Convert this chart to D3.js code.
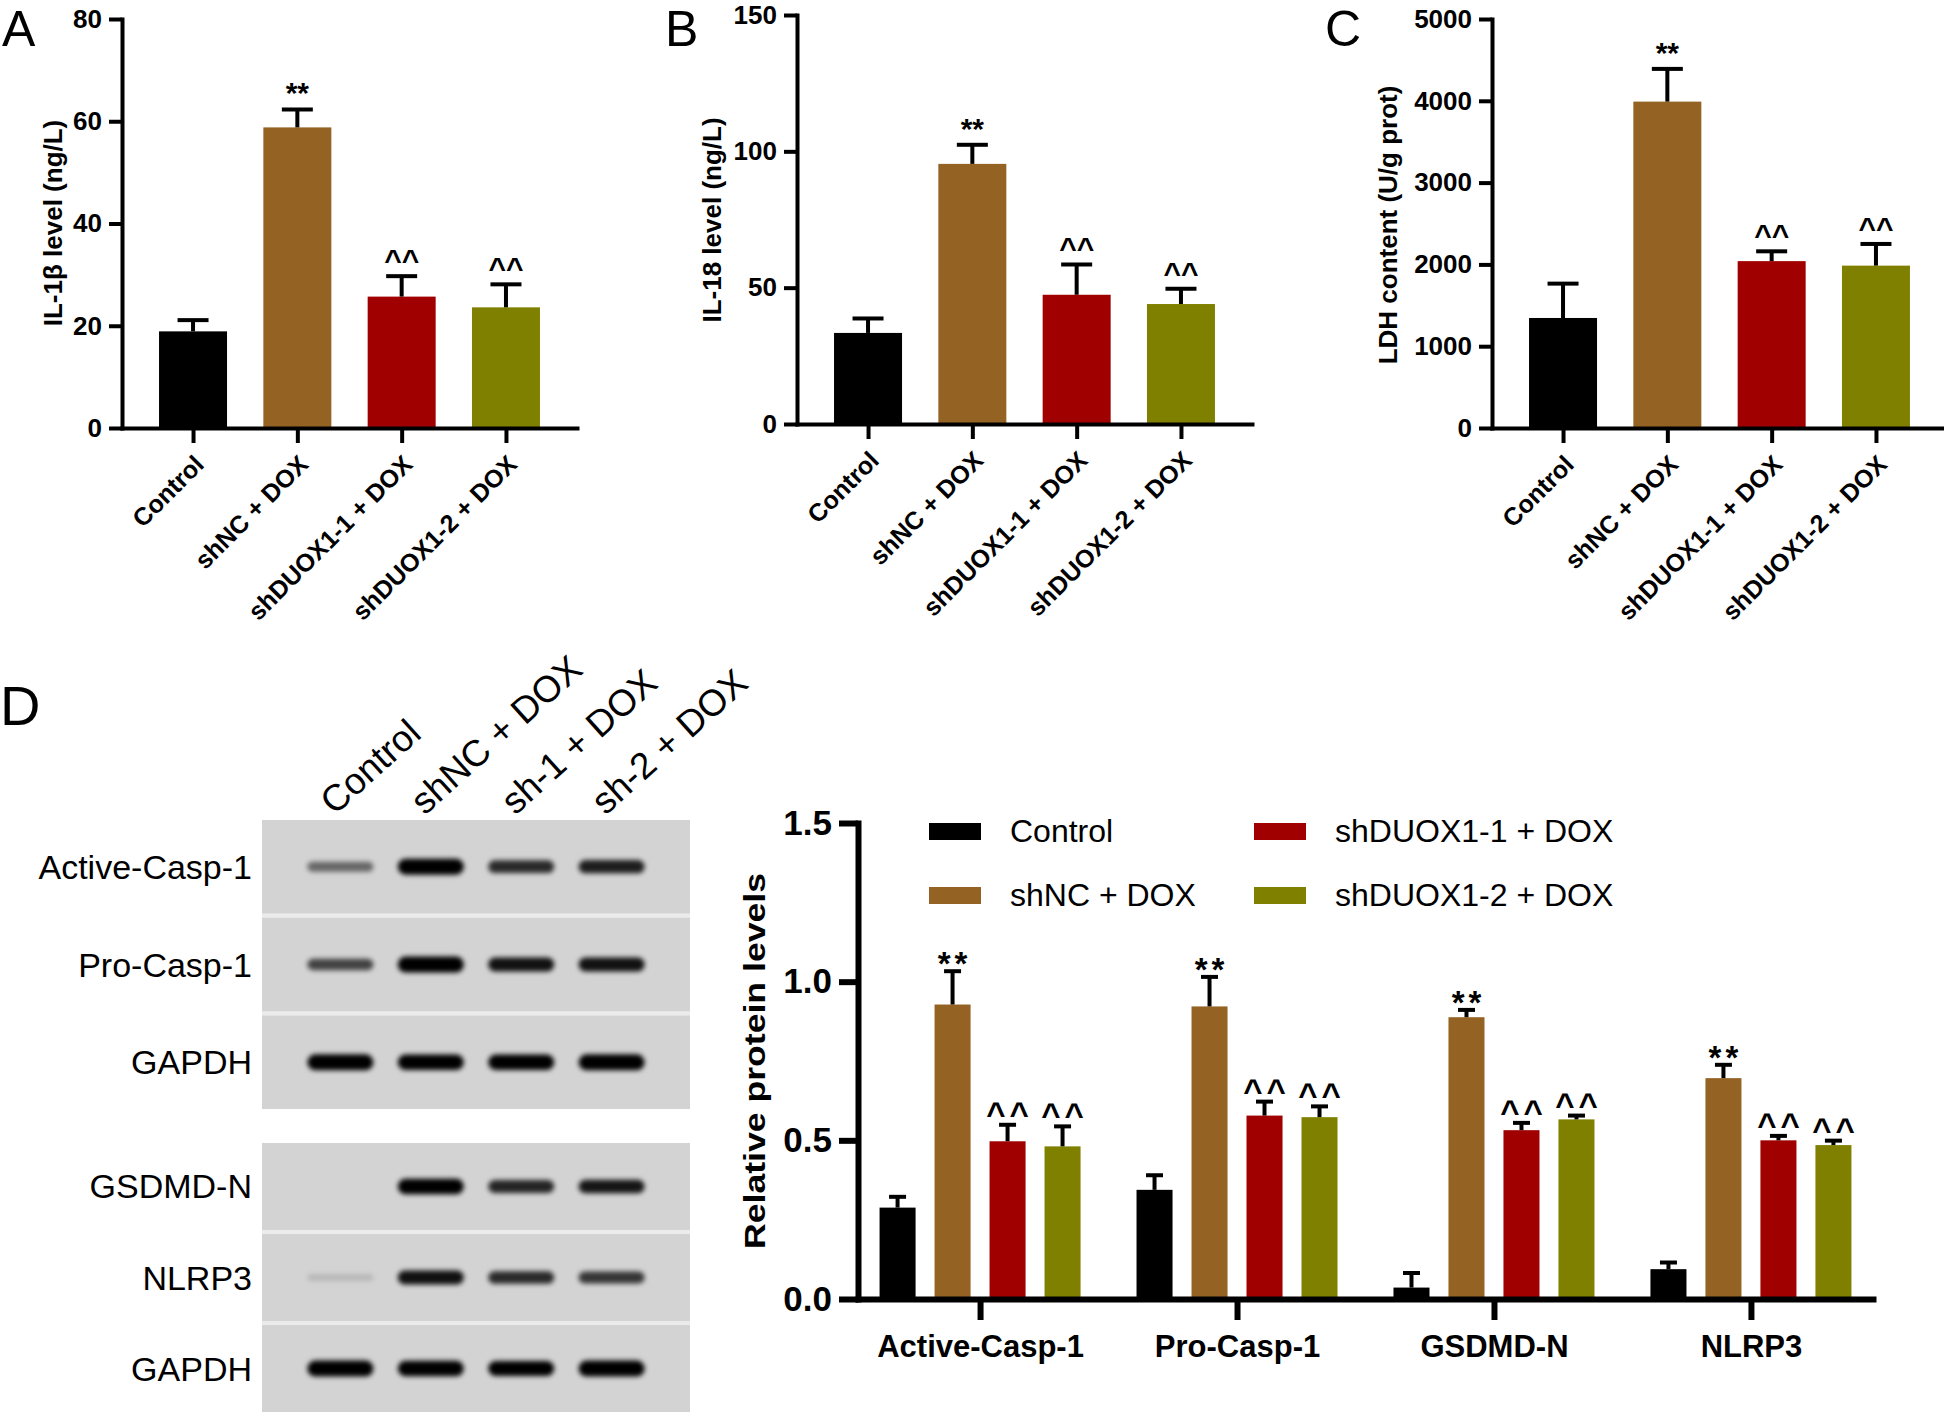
<!DOCTYPE html>
<html>
<head>
<meta charset="utf-8">
<script src="https://cdn.jsdelivr.net/npm/d3@7"></script>
<style>
  body { margin: 0; background: #fff; }
  svg { display: block; font-family: "Liberation Sans", Arial, sans-serif; }
</style>
</head>
<body>
<svg id="fig" width="1944" height="1418"></svg>
<script>
// groups + colours shared by all panels
const groups = ["Control", "shNC + DOX", "shDUOX1-1 + DOX", "shDUOX1-2 + DOX"];
const groupColors = ["#000000", "#946324", "#a00000", "#808000"];
const sigMarks = ["", "**", "^^", "^^"];

// A: IL-1β
const il1bMean = [18.9, 58.8, 25.7, 23.6];
const il1bErr = [2.2, 3.5, 4.0, 4.5];
const il1bTicks = [0, 20, 40, 60, 80];

// B: IL-18
const il18Mean = [33.4, 95.4, 47.4, 44.0];
const il18Err = [5.3, 7.0, 11.1, 5.6];
const il18Ticks = [0, 50, 100, 150];

// C: LDH
const ldhMean = [1345, 3990, 2040, 1985];
const ldhErr = [420, 400, 120, 265];
const ldhTicks = [0, 1000, 2000, 3000, 4000, 5000];

// D: relative protein levels (one array per group, in protein order)
const proteins = ["Active-Casp-1", "Pro-Casp-1", "GSDMD-N", "NLRP3"];
const controlRel = [0.288, 0.344, 0.036, 0.094];
const controlRelErr = [0.034, 0.046, 0.046, 0.021];
const shncRel = [0.928, 0.922, 0.888, 0.696];
const shncRelErr = [0.105, 0.093, 0.023, 0.042];
const sh1Rel = [0.497, 0.578, 0.532, 0.500];
const sh1RelErr = [0.052, 0.044, 0.023, 0.014];
const sh2Rel = [0.481, 0.573, 0.566, 0.485];
const sh2RelErr = [0.063, 0.034, 0.012, 0.014];
const relTicks = [0, 0.5, 1.0, 1.5];

// western blot
const laneLabels = ["Control", "shNC + DOX", "sh-1 + DOX", "sh-2 + DOX"];
const blotRowsTop = ["Active-Casp-1", "Pro-Casp-1", "GAPDH"];
const blotRowsBottom = ["GSDMD-N", "NLRP3", "GAPDH"];
const bandsTop = [[0.45, 1.0, 0.7, 0.75], [0.6, 1.0, 0.8, 0.8], [1.0, 0.95, 0.95, 1.0]];
const bandsBottom = [[0, 0.95, 0.72, 0.78], [0.12, 0.8, 0.7, 0.65], [1.0, 0.95, 0.9, 1.0]];

const svg = d3.select("#fig");
svg.append("rect").attr("width", 1944).attr("height", 1418).attr("fill", "#fff");

function styleAxis(g, w, fontSize) {
    g.select(".domain").attr("stroke", "#000").attr("stroke-width", w).attr("stroke-linecap", "square");
    g.selectAll(".tick line").attr("stroke", "#000").attr("stroke-width", w);
    g.selectAll(".tick text").attr("fill", "#000").attr("font-size", fontSize).attr("font-weight", "bold")
        .attr("font-family", "Liberation Sans, Arial, sans-serif");
}

// ---------- panels A, B, C ----------
function drawSmallPanel(p) {
    const g = svg.append("g");
    const x = d3.scalePoint().domain(groups).range([p.left, p.left + 455]).padding(0.681);
    const y = d3.scaleLinear().domain([0, p.max]).range([p.bottom, p.top]);
    const bw = 68;

    g.selectAll(".bar").data(p.mean).join("rect")
        .attr("x", (d, i) => x(groups[i]) - bw / 2).attr("y", d => y(d))
        .attr("width", bw).attr("height", d => y(0) - y(d)).attr("fill", (d, i) => groupColors[i]);

    g.selectAll(".stem").data(p.mean).join("line")
        .attr("x1", (d, i) => x(groups[i])).attr("x2", (d, i) => x(groups[i]))
        .attr("y1", d => y(d)).attr("y2", (d, i) => y(d + p.err[i]))
        .attr("stroke", "#000").attr("stroke-width", 4);
    g.selectAll(".cap").data(p.mean).join("line")
        .attr("x1", (d, i) => x(groups[i]) - 15.5).attr("x2", (d, i) => x(groups[i]) + 15.5)
        .attr("y1", (d, i) => y(d + p.err[i])).attr("y2", (d, i) => y(d + p.err[i]))
        .attr("stroke", "#000").attr("stroke-width", 4);

    g.selectAll(".mark").data(p.mean).join("text")
        .attr("x", (d, i) => x(groups[i])).attr("y", (d, i) => y(d + p.err[i]) - 6)
        .attr("text-anchor", "middle").attr("font-size", 30).attr("font-weight", "bold")
        .text((d, i) => sigMarks[i]);

    const ax = g.append("g").attr("transform", `translate(0,${p.bottom})`)
        .call(d3.axisBottom(x).tickSize(15).tickSizeOuter(0));
    styleAxis(ax, 4, 25);
    ax.selectAll(".tick text").attr("x", 0).attr("y", 0).attr("dy", null)
        .attr("text-anchor", "end").attr("transform", "translate(12,38) rotate(-45)");

    const ay = g.append("g").attr("transform", `translate(${p.left},0)`)
        .call(d3.axisLeft(y).tickValues(p.ticks).tickSize(13).tickPadding(7).tickSizeOuter(0).tickFormat(d3.format("d")));
    styleAxis(ay, 4, 26);

    g.append("text").attr("transform", `translate(${p.titleX},${p.titleY}) rotate(-90)`)
        .attr("text-anchor", "middle").attr("font-size", 26).attr("font-weight", "bold").text(p.title);
    g.append("text").attr("x", p.labelX).attr("y", 46).attr("font-size", 50).text(p.id);
}

drawSmallPanel({ id: "A", mean: il1bMean, err: il1bErr, max: 80, ticks: il1bTicks, title: "IL-1β level (ng/L)",
    left: 122, top: 19, bottom: 428, titleX: 62, titleY: 223, labelX: 2 });
drawSmallPanel({ id: "B", mean: il18Mean, err: il18Err, max: 150, ticks: il18Ticks, title: "IL-18 level (ng/L)",
    left: 797, top: 15, bottom: 424, titleX: 721, titleY: 220, labelX: 665 });
drawSmallPanel({ id: "C", mean: ldhMean, err: ldhErr, max: 5000, ticks: ldhTicks, title: "LDH content (U/g prot)",
    left: 1492, top: 19, bottom: 428, titleX: 1397, titleY: 225, labelX: 1325 });

// ---------- panel D: blot ----------
svg.append("text").attr("x", 0).attr("y", 725).attr("font-size", 56).text("D");

const defs = svg.append("defs");
defs.append("filter").attr("id", "bandBlur").attr("x", "-20%").attr("y", "-150%").attr("width", "140%").attr("height", "400%")
    .append("feGaussianBlur").attr("stdDeviation", 2.4);

const laneX = d3.scalePoint().domain(laneLabels).range([262, 690]).padding(0.867);

svg.append("g").selectAll("text").data(laneLabels).join("text")
    .attr("transform", d => `translate(${laneX(d) - 6},816) rotate(-42)`)
    .attr("font-size", 37).text(d => d);

function drawBlot(rows, bands, top, bottom) {
    const rowY = d3.scaleBand().domain(d3.range(rows.length)).range([top, bottom]).paddingInner(0.045);
    const g = svg.append("g");
    g.append("rect").attr("x", 262).attr("y", top).attr("width", 428).attr("height", bottom - top).attr("fill", "#ebebeb");
    rows.forEach((name, r) => {
        const y0 = rowY(r), h = rowY.bandwidth(), cy = y0 + h / 2;
        g.append("rect").attr("x", 262).attr("y", y0).attr("width", 428).attr("height", h).attr("fill", "#d3d3d3");
        g.append("g").attr("filter", "url(#bandBlur)").selectAll("rect").data(bands[r]).join("rect")
            .attr("x", (d, i) => laneX(laneLabels[i]) - 33)
            .attr("y", d => cy - (5 + 11 * d) / 2)
            .attr("width", 66).attr("height", d => 5 + 11 * d)
            .attr("rx", d => (5 + 11 * d) / 2)
            .attr("fill", "#000").attr("fill-opacity", d => Math.min(1, d * 1.15));
        svg.append("text").attr("x", 252).attr("y", cy + 12).attr("text-anchor", "end")
            .attr("font-size", 34).text(name);
    });
}
drawBlot(blotRowsTop, bandsTop, 820, 1109);
drawBlot(blotRowsBottom, bandsBottom, 1143, 1412);

// ---------- panel D: grouped bars ----------
const relSeries = [
    { mean: controlRel, err: controlRelErr },
    { mean: shncRel, err: shncRelErr },
    { mean: sh1Rel, err: sh1RelErr },
    { mean: sh2Rel, err: sh2RelErr }
];
const xD = d3.scalePoint().domain(proteins).range([858, 1873]).padding(0.475);
const innerX = d3.scaleBand().domain(groups).range([-100.5, 100.5]).paddingInner(0.345);
const yD = d3.scaleLinear().domain([0, 1.5]).range([1299, 823]);

const dData = [];
relSeries.forEach((s, gi) => s.mean.forEach((v, pi) => dData.push({ g: gi, p: pi, v: v, e: s.err[pi] })));
const cxD = d => xD(proteins[d.p]) + innerX(groups[d.g]) + innerX.bandwidth() / 2;

const gD = svg.append("g");
gD.selectAll(".bar").data(dData).join("rect")
    .attr("x", d => cxD(d) - innerX.bandwidth() / 2).attr("y", d => yD(d.v))
    .attr("width", innerX.bandwidth()).attr("height", d => yD(0) - yD(d.v))
    .attr("fill", d => groupColors[d.g]);
gD.selectAll(".stem").data(dData).join("line")
    .attr("x1", cxD).attr("x2", cxD).attr("y1", d => yD(d.v)).attr("y2", d => yD(d.v + d.e))
    .attr("stroke", "#000").attr("stroke-width", 4);
gD.selectAll(".cap").data(dData).join("line")
    .attr("x1", d => cxD(d) - 8.5).attr("x2", d => cxD(d) + 8.5)
    .attr("y1", d => yD(d.v + d.e)).attr("y2", d => yD(d.v + d.e))
    .attr("stroke", "#000").attr("stroke-width", 4);
gD.selectAll(".mark").data(dData.filter(d => sigMarks[d.g])).join("text")
    .attr("x", d => cxD(d) + 2).attr("y", d => yD(d.v + d.e) + (d.g === 1 ? 4 : 0))
    .attr("text-anchor", "middle").attr("font-size", 33).attr("font-weight", "bold")
    .attr("letter-spacing", 4).text(d => sigMarks[d.g]);

const axD = gD.append("g").attr("transform", "translate(0,1299)")
    .call(d3.axisBottom(xD).tickSize(21).tickPadding(15).tickSizeOuter(0));
styleAxis(axD, 6, 31);
const ayD = gD.append("g").attr("transform", "translate(858,0)")
    .call(d3.axisLeft(yD).tickValues(relTicks).tickSize(19).tickPadding(7).tickSizeOuter(0).tickFormat(d3.format(".1f")));
styleAxis(ayD, 6, 35);
gD.append("text").attr("transform", "translate(765,1061) rotate(-90)")
    .attr("text-anchor", "middle").attr("font-size", 30).attr("font-weight", "bold")
    .attr("textLength", 376).attr("lengthAdjust", "spacingAndGlyphs").text("Relative protein levels");

// legend
const legend = gD.append("g").selectAll("g").data(groups).join("g")
    .attr("transform", (d, i) => `translate(${i < 2 ? 929 : 1254},${i % 2 === 0 ? 831 : 895})`);
legend.append("rect").attr("x", 0).attr("y", -8).attr("width", 52).attr("height", 17).attr("fill", (d, i) => groupColors[i]);
legend.append("text").attr("x", 81).attr("y", 11).attr("font-size", 32).text(d => d);
</script>
</body>
</html>
